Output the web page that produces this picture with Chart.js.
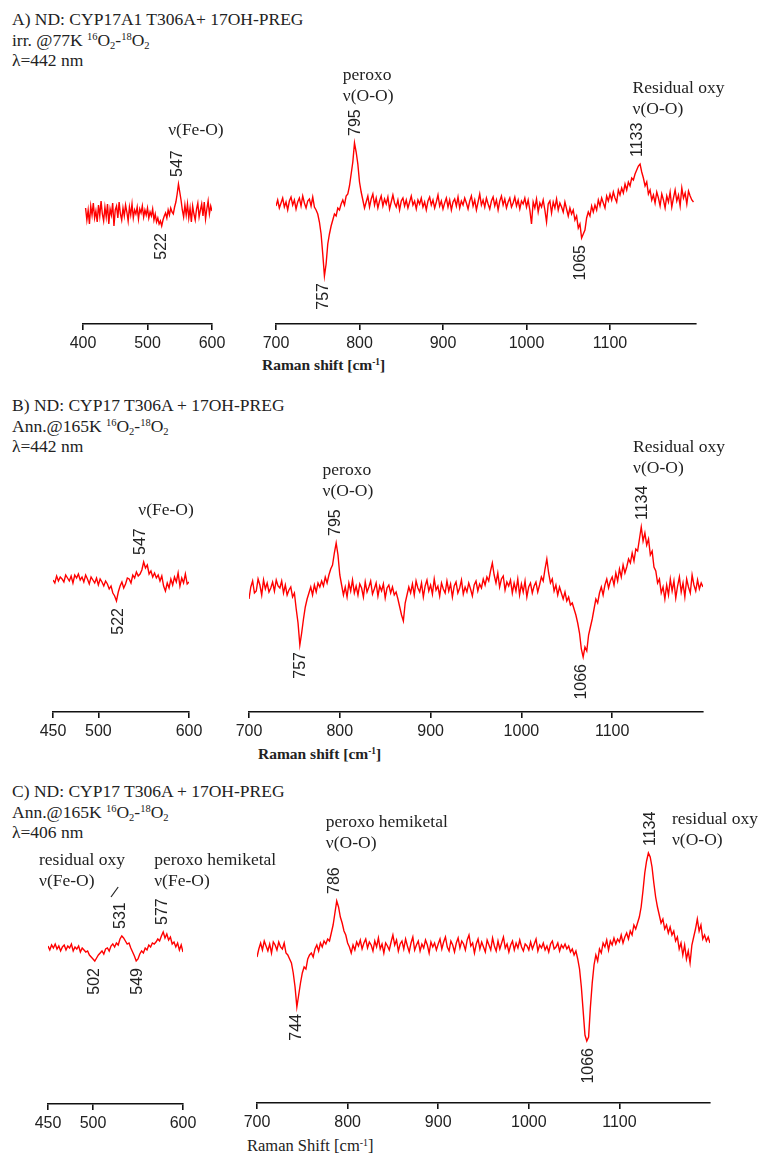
<!DOCTYPE html>
<html>
<head>
<meta charset="utf-8">
<title>Raman difference spectra</title>
<script src="https://cdn.jsdelivr.net/npm/chart.js@4.4.1/dist/chart.umd.min.js"></script>
<style>
  html, body { margin: 0; padding: 0; background: #fff; }
  #fig { position: relative; width: 761px; height: 1159px; overflow: hidden; }
  #fig canvas { position: absolute; }
  .head { position: absolute; left: 12px; font: 17.5px/20.5px "Liberation Serif", "Times New Roman", serif; color: #222; white-space: nowrap; }
  .xtitle { position: absolute; white-space: nowrap; color: #222; font-family: "Liberation Serif", "Times New Roman", serif; line-height: 20px; }
  sup, sub { font-size: 60%; line-height: 0; position: relative; vertical-align: baseline; }
  sup { top: -0.55em; }
  sub { top: 0.35em; }
</style>
</head>
<body>
<div id="fig">
  <div class="head" style="top:9px">A) ND: CYP17A1 T306A+ 17OH-PREG<br>irr. @77K <sup>16</sup>O<sub>2</sub>-<sup>18</sup>O<sub>2</sub><br>λ=442 nm</div>
  <div class="head" style="top:395px">B) ND: CYP17 T306A + 17OH-PREG<br>Ann.@165K <sup>16</sup>O<sub>2</sub>-<sup>18</sup>O<sub>2</sub><br>λ=442 nm</div>
  <div class="head" style="top:781px">C) ND: CYP17 T306A + 17OH-PREG<br>Ann.@165K <sup>16</sup>O<sub>2</sub>-<sup>18</sup>O<sub>2</sub><br>λ=406 nm</div>
  <div class="xtitle" style="left:262px; top:355px; font-size:15.5px; font-weight:bold">Raman shift [cm<sup>-1</sup>]</div>
  <div class="xtitle" style="left:258px; top:744px; font-size:15.5px; font-weight:bold">Raman shift [cm<sup>-1</sup>]</div>
  <div class="xtitle" style="left:247px; top:1136px; font-size:16.5px">Raman Shift [cm<sup>-1</sup>]</div>
</div>
<script>
// Raman shift grids (cm-1)
const shiftHigh = [
  700,702,704,706,708,710,712,714,716,718, 720,722,724,726,728,730,732,734,736,738,
  740,742,744,746,748,750,752,754,756,758, 760,762,764,766,768,770,772,774,776,778,
  780,782,784,786,788,790,792,794,796,798, 800,802,804,806,808,810,812,814,816,818,
  820,822,824,826,828,830,832,834,836,838, 840,842,844,846,848,850,852,854,856,858,
  860,862,864,866,868,870,872,874,876,878, 880,882,884,886,888,890,892,894,896,898,
  900,902,904,906,908,910,912,914,916,918, 920,922,924,926,928,930,932,934,936,938,
  940,942,944,946,948,950,952,954,956,958, 960,962,964,966,968,970,972,974,976,978,
  980,982,984,986,988,990,992,994,996,998, 1000,1002,1004,1006,1008,1010,1012,1014,1016,1018,
  1020,1022,1024,1026,1028,1030,1032,1034,1036,1038, 1040,1042,1044,1046,1048,1050,1052,1054,1056,1058,
  1060,1062,1064,1066,1068,1070,1072,1074,1076,1078, 1080,1082,1084,1086,1088,1090,1092,1094,1096,1098,
  1100,1102,1104,1106,1108,1110,1112,1114,1116,1118, 1120,1122,1124,1126,1128,1130,1132,1134,1136,1138,
  1140,1142,1144,1146,1148,1150,1152,1154,1156,1158, 1160,1162,1164,1166,1168,1170,1172,1174,1176,1178,
  1180,1182,1184,1186,1188,1190,1192,1194,1196,1198, 1200];
const shiftLowA = [
  404,406,408,410,412,414,416,418,420,422, 424,426,428,430,432,434,436,438,440,442,
  444,446,448,450,452,454,456,458,460,462, 464,466,468,470,472,474,476,478,480,482,
  484,486,488,490,492,494,496,498,500,502, 504,506,508,510,512,514,516,518,520,522,
  524,526,528,530,532,534,536,538,540,542, 544,546,548,550,552,554,556,558,560,562,
  564,566,568,570,572,574,576,578,580,582, 584,586,588,590,592,594,596,598,600];
const shiftLow = [
  450,452,454,456,458,460,462,464,466,468, 470,472,474,476,478,480,482,484,486,488,
  490,492,494,496,498,500,502,504,506,508, 510,512,514,516,518,520,522,524,526,528,
  530,532,534,536,538,540,542,544,546,548, 550,552,554,556,558,560,562,564,566,568,
  570,572,574,576,578,580,582,584,586,588, 590,592,594,596,598,600];

// 16O2 - 18O2 difference intensities (arbitrary units, baseline = 0)
const diffA_low = [
  4,-8,2,-12,6,-3,9,-6,1,-10,   7,-4,11,-2,-9,5,-5,8,-12,3,
  -3,9,-14,2,6,-6,10,-2,-8,4,   -4,7,0,-9,5,-3,8,-6,2,-2,
  5,-7,3,-1,6,-5,2,-3,4,-6,     0,-4,3,-8,-2,-10,-6,-12,-9,-14,
  -8,-4,-1,-6,2,-3,4,0,-2,5,    10,18,28,20,12,2,-5,7,-3,8,
  -6,4,-10,6,-2,-8,3,9,-5,2,    8,-4,10,-7,3,11,-2,6,1];
const diffA_high = [
  -2,4,-4,1,6,-3,2,-6,3,7,            -1,4,-5,2,6,-2,8,1,-4,3,
  5,-2,7,-3,-6,-10,-18,-30,-50,-72,   -60,-40,-30,-22,-16,-10,-12,-4,-6,0,
  4,-1,8,10,18,30,42,61,52,40,        22,12,4,-4,2,8,-3,5,10,-1,
  6,-4,3,8,-2,5,0,7,-5,2,             9,1,-3,4,-6,3,6,-2,4,-4,
  2,8,-1,3,-5,4,0,6,-3,2,             -6,3,7,-1,4,-4,2,9,-2,3,
  -5,1,6,-3,4,-6,2,5,-2,7,            -4,3,-1,6,1,-5,3,8,-2,4,
  -6,2,10,-1,4,-3,6,0,-5,3,           7,-2,4,-6,3,8,-1,5,-4,2,
  6,-3,1,7,-2,4,-5,3,0,6,             -3,4,-6,-20,2,-4,5,-8,1,-3,
  4,-6,-18,0,3,-9,2,-4,5,-6,          1,-3,-8,2,-5,-12,-4,-10,-6,-16,
  -12,-24,-20,-34,-30,-26,-14,-8,-12,-2,  -8,-1,-6,4,-2,6,1,-4,8,3,
  10,4,12,6,2,14,9,16,11,20,          14,22,18,26,24,30,34,38,40,32,
  26,18,22,10,14,4,9,1,12,6,          -2,10,4,-4,8,2,12,-3,6,14,
  3,9,-2,16,6,11,0,13,8,4,            2];
const diffB_low = [
  0,-3,4,-1,3,1,-2,5,2,-1,        4,-3,5,2,6,0,3,-2,5,1,
  -4,3,0,-3,2,-5,1,-2,-6,-1,      -4,-9,-6,-13,-16,-21,-12,-6,-2,-8,
  -4,2,1,-3,5,2,8,4,6,10,         18,12,15,6,9,3,7,2,5,-1,
  4,-6,-11,-3,-8,1,-5,3,-2,7,     -6,2,-3,6,-4,-2];
const diffB_high = [
  -10,2,8,-4,-2,10,4,-6,9,0,          6,-3,1,7,-2,9,3,1,8,-4,
  4,-6,-1,2,-8,-4,-20,-34,-56,-44,    -30,-18,-10,-4,2,-6,4,-3,6,2,
  8,3,12,6,14,20,24,36,46,34,         14,4,-6,2,-8,6,-2,9,-4,3,
  -6,5,1,-8,7,-3,2,8,-5,0,            6,-7,3,-2,5,-9,1,4,-4,2,
  -6,-3,-10,-18,-26,-32,-14,-6,2,-4,  5,-6,8,1,-3,6,-8,3,9,-2,
  4,-5,10,-1,3,-7,6,0,-4,8,           -2,5,-8,3,7,-4,1,9,-5,2,
  -3,6,0,-7,4,8,-2,5,1,10,            4,12,8,18,26,14,6,16,2,10,
  13,-1,7,3,9,-4,6,-2,10,-6,          5,-3,8,-8,2,6,-4,3,7,-3,
  4,12,8,20,30,16,6,10,-2,4,          -6,2,-4,-10,-3,-12,-8,-16,-14,-20,
  -26,-34,-44,-60,-68,-58,-62,-46,-38,-30,  -20,-10,-14,-4,2,-6,4,10,1,8,
  12,4,16,8,20,12,24,16,22,30,        26,36,28,40,38,50,62,48,56,44,
  50,34,38,22,18,6,10,-4,2,-10,       4,-6,10,-2,8,-9,3,12,-3,6,
  -8,10,2,-4,14,4,-2,9,0,6,           2];
const diffC_low = [
  2,-2,3,0,4,-1,2,-3,1,3,         -2,2,0,4,-3,1,-1,2,-4,0,
  -2,-4,-3,-7,-9,-11,-13,-10,-7,-5,   -3,-6,-1,0,-3,2,4,1,5,3,
  9,12,10,7,4,5,0,-4,-8,-13,      -11,-6,-3,-5,0,-2,3,1,5,4,
  6,9,7,12,16,10,14,8,11,4,       6,1,5,-2,3,-4];
const diffC_high = [
  -10,-2,4,-3,6,1,-4,3,-6,5,          2,-3,5,0,-2,4,-6,-8,-12,-16,
  -26,-40,-60,-48,-36,-26,-20,-22,-12,-8,  -6,-10,-2,2,-4,4,0,6,3,8,
  6,14,22,34,46,40,30,24,16,12,       4,0,-6,2,-3,5,1,7,-2,4,
  8,-1,5,2,-4,6,0,9,-2,3,             -6,4,1,-3,5,12,2,7,-4,3,
  6,-2,8,1,-5,4,10,-3,2,6,            -4,3,-1,7,2,-6,5,0,4,-3,
  3,8,-2,5,10,0,-4,6,2,-5,            4,9,-1,6,3,-3,7,12,1,4,
  -6,3,8,-2,5,0,-5,7,2,-3,            9,1,-4,6,-2,4,10,-1,3,-5,
  2,6,-3,4,-1,7,0,-4,3,1,             -3,5,-2,3,8,-4,2,-1,4,-3,
  1,-5,3,6,-2,0,4,-4,2,-1,            3,-2,1,-5,-2,-8,-4,-12,-22,-40,
  -64,-88,-94,-90,-60,-36,-18,-8,-14,-2,  -6,4,0,7,-3,6,2,9,3,8,
  5,12,4,10,14,8,16,12,22,18,         24,30,40,56,74,86,94,90,80,64,
  50,40,32,24,28,18,22,14,20,12,      16,6,10,-2,4,-8,2,-12,-4,-16,
  2,10,18,28,16,22,8,12,6,10,         4];

// tick labels
const ticksLowA = [400, 500, 600];
const ticksLow = [450, 500, 600];
const ticksHigh = [700, 800, 900, 1000, 1100];

// labelled band positions (cm-1)
const bandsA_low = [{ at: 547, dir: 'up' }, { at: 522, dir: 'down' }];
const bandsA_high = [{ at: 795, dir: 'up' }, { at: 757, dir: 'down' }, { at: 1065, dir: 'down' }, { at: 1133, dir: 'up' }];
const bandsB_low = [{ at: 547, dir: 'up' }, { at: 522, dir: 'down' }];
const bandsB_high = [{ at: 795, dir: 'up' }, { at: 757, dir: 'down' }, { at: 1066, dir: 'down' }, { at: 1134, dir: 'up' }];
const bandsC_low = [{ at: 531, dir: 'up' }, { at: 577, dir: 'up' }, { at: 502, dir: 'down' }, { at: 549, dir: 'down' }];
const bandsC_high = [{ at: 786, dir: 'up' }, { at: 744, dir: 'down' }, { at: 1066, dir: 'down' }, { at: 1134, dir: 'up' }];

const RED = 'rgb(255,0,0)';
const INK = '#222';
const SERIF = '17.5px "Liberation Serif", "Times New Roman", serif';
const SANS = '"Liberation Sans", Arial, sans-serif';

// draws the rotated band numbers and the descriptive text
function notesPlugin(p) {
  return {
    id: 'notes',
    afterDatasetsDraw(chart) {
      const ctx = chart.ctx, xs = chart.scales.x, ys = chart.scales.y;
      const pts = chart.data.datasets[0].data;
      ctx.save();
      ctx.fillStyle = INK;
      ctx.strokeStyle = INK;
      ctx.font = '16px ' + SANS;
      p.bands.forEach(b => {
        const near = pts.filter(d => Math.abs(d.x - b.at) <= 6).map(d => d.y);
        const ext = b.dir === 'up' ? Math.max(...near) : Math.min(...near);
        const px = xs.getPixelForValue(b.at);
        const py = ys.getPixelForValue(ext) + (b.dir === 'up' ? -7 : 7);
        ctx.save();
        ctx.translate(px, py);
        ctx.rotate(-Math.PI / 2);
        ctx.textAlign = b.dir === 'up' ? 'left' : 'right';
        ctx.textBaseline = 'middle';
        ctx.fillText(String(b.at), 0, 0);
        ctx.restore();
      });
      ctx.font = SERIF;
      ctx.textAlign = 'left';
      ctx.textBaseline = 'alphabetic';
      (p.notes || []).forEach(n => {
        const px = xs.getPixelForValue(n.x), py = ys.getPixelForValue(n.y);
        n.lines.forEach((t, i) => ctx.fillText(t, px, py + i * 21));
      });
      (p.links || []).forEach(l => {
        ctx.lineWidth = 1.2;
        ctx.beginPath();
        ctx.moveTo(xs.getPixelForValue(l.x1), ys.getPixelForValue(l.y1));
        ctx.lineTo(xs.getPixelForValue(l.x2), ys.getPixelForValue(l.y2));
        ctx.stroke();
      });
      ctx.restore();
    }
  };
}

const panels = [
  { x: shiftLowA, y: diffA_low, min: 400, max: 600, ticks: ticksLowA, x0: 83, x1: 212, axisY: 324, base: 212, top: 70,
    bands: bandsA_low, notes: [{ x: 532, y: 77, lines: ['ν(Fe-O)'] }] },
  { x: shiftHigh, y: diffA_high, min: 700, max: 1203, ticks: ticksHigh, x0: 276, x1: 696, axisY: 324, base: 204, top: 60, padR: 50,
    bands: bandsA_high, notes: [{ x: 780, y: 124, lines: ['peroxo', 'ν(O-O)'] }, { x: 1127, y: 111, lines: ['Residual oxy', 'ν(O-O)'] }] },
  { x: shiftLow, y: diffB_low, min: 450, max: 600, ticks: ticksLow, x0: 53, x1: 189, axisY: 712, base: 580, top: 435,
    bands: bandsB_low, notes: [{ x: 544, y: 65, lines: ['ν(Fe-O)'] }] },
  { x: shiftHigh, y: diffB_high, min: 700, max: 1200, ticks: ticksHigh, x0: 249, x1: 703, axisY: 712, base: 589, top: 435, padR: 50,
    bands: bandsB_high, notes: [{ x: 781, y: 114, lines: ['peroxo', 'ν(O-O)'] }, { x: 1123, y: 137, lines: ['Residual oxy', 'ν(O-O)'] }] },
  { x: shiftLow, y: diffC_low, min: 450, max: 600, ticks: ticksLow, x0: 48, x1: 183, axisY: 1104, base: 948, top: 805, padR: 110,
    bands: bandsC_low,
    notes: [{ x: 440, y: 83, lines: ['residual oxy', 'ν(Fe-O)'] }, { x: 568, y: 83, lines: ['peroxo hemiketal', 'ν(Fe-O)'] }],
    links: [{ x1: 520, y1: 51, x2: 528, y2: 61 }] },
  { x: shiftHigh, y: diffC_high, min: 700, max: 1200, ticks: ticksHigh, x0: 257, x1: 710, axisY: 1103, base: 947, top: 805, padR: 51,
    bands: bandsC_high, notes: [{ x: 776, y: 120, lines: ['peroxo hemiketal', 'ν(O-O)'] }, { x: 1158, y: 123, lines: ['residual oxy', 'ν(O-O)'] }] }
];

const fig = document.getElementById('fig');
const AXIS_H = 30;

panels.forEach(p => {
  const padL = p.padL || 30, padR = p.padR || 30;
  const canvas = document.createElement('canvas');
  const w = p.x1 - p.x0 + padL + padR;
  const h = p.axisY - p.top + AXIS_H;
  canvas.width = w;
  canvas.height = h;
  canvas.style.left = (p.x0 - padL) + 'px';
  canvas.style.top = p.top + 'px';
  canvas.style.width = w + 'px';
  canvas.style.height = h + 'px';
  fig.appendChild(canvas);

  new Chart(canvas.getContext('2d'), {
    type: 'line',
    data: {
      datasets: [{
        data: p.x.map((v, i) => ({ x: v, y: p.y[i] })),
        borderColor: RED,
        borderWidth: 1.4,
        pointRadius: 0,
        fill: false,
        tension: 0
      }]
    },
    options: {
      responsive: false,
      animation: false,
      devicePixelRatio: 1,
      layout: { padding: { left: padL, right: padR, top: 0, bottom: 0 } },
      plugins: { legend: { display: false }, tooltip: { enabled: false } },
      scales: {
        x: {
          type: 'linear',
          min: p.min,
          max: p.max,
          afterFit: s => { s.height = AXIS_H; },
          afterBuildTicks: s => { s.ticks = p.ticks.map(v => ({ value: v })); },
          grid: { drawOnChartArea: false, drawTicks: true, tickLength: 6, color: '#111', lineWidth: 1.6 },
          border: { display: true, color: '#111', width: 1.6 },
          ticks: {
            color: INK,
            font: { family: SANS, size: 16 },
            padding: 4,
            maxRotation: 0,
            autoSkip: false,
            callback: v => String(v)
          }
        },
        y: { display: false, min: -(p.axisY - p.base), max: p.base - p.top }
      }
    },
    plugins: [notesPlugin(p)]
  });
});
</script>
</body>
</html>
